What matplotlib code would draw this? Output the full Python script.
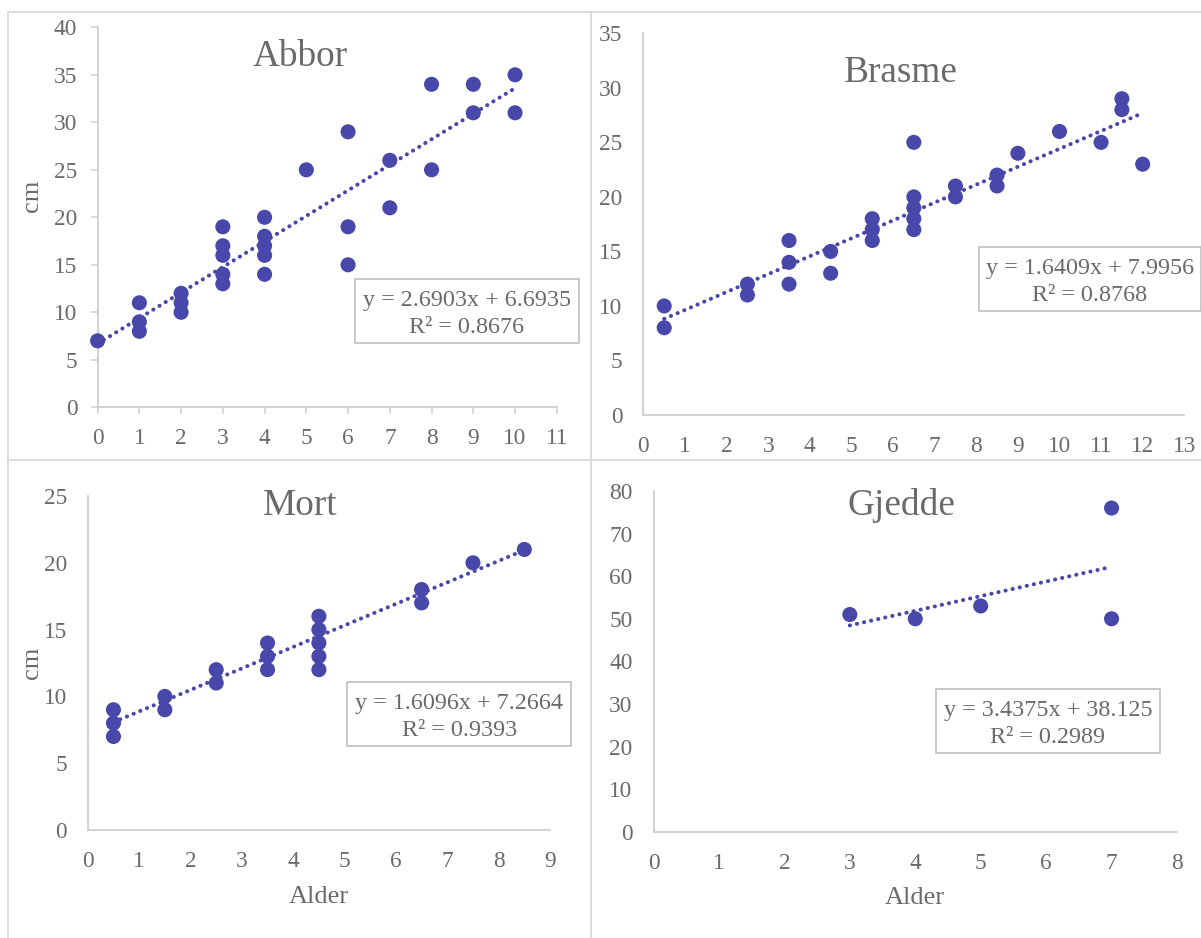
import matplotlib
matplotlib.use('Agg')
import matplotlib.pyplot as plt
from matplotlib.lines import Line2D
from matplotlib.patches import Rectangle
import numpy as np

plt.rcParams['font.family'] = ['Liberation Serif', 'DejaVu Serif']

# ---------------- data ----------------
abbor_alder = [0, 1, 1, 1, 2, 2, 2, 3, 3, 3, 3, 3, 4, 4, 4, 4, 4, 5, 6, 6, 6, 7, 7, 8, 8, 9, 9, 10, 10]
abbor_cm = [7, 11, 9, 8, 12, 11, 10, 19, 17, 16, 14, 13, 20, 18, 17, 16, 14, 25, 29, 19, 15, 26, 21, 34, 25, 34, 31, 35, 31]

brasme_alder = [0.5, 0.5, 2.5, 2.5, 3.5, 3.5, 3.5, 4.5, 4.5, 5.5, 5.5, 5.5, 6.5, 6.5, 6.5, 6.5, 6.5,
                7.5, 7.5, 8.5, 8.5, 9, 10, 11, 11.5, 11.5, 12]
brasme_cm = [10, 8, 12, 11, 16, 14, 12, 15, 13, 18, 17, 16, 25, 20, 19, 18, 17,
             21, 20, 22, 21, 24, 26, 25, 29, 28, 23]

mort_alder = [0.5, 0.5, 0.5, 1.5, 1.5, 2.5, 2.5, 3.5, 3.5, 3.5, 4.5, 4.5, 4.5, 4.5, 4.5, 6.5, 6.5, 7.5, 8.5]
mort_cm = [9, 8, 7, 10, 9, 12, 11, 14, 13, 12, 16, 15, 14, 13, 12, 18, 17, 20, 21]

gjedde_alder = [3, 4, 5, 7, 7]
gjedde_cm = [51, 50, 53, 76, 50]

titles = ['Abbor', 'Brasme', 'Mort', 'Gjedde']
slopes = [2.6903, 1.6409, 1.6096, 3.4375]
intercepts = [6.6935, 7.9956, 7.2664, 38.125]
r2_values = [0.8676, 0.8768, 0.9393, 0.2989]
xlims = [11, 13, 9, 8]
ylims = [40, 35, 25, 80]
ysteps = [5, 5, 5, 10]

# ---------------- style ----------------
W, H = 1201, 938
TXT = '#6a6a6a'
AXC = '#cfcfcf'
BORDER = '#d9d9d9'
MK = '#4848AA'

fig = plt.figure(figsize=(W / 100, H / 100), dpi=100)


def fx(x):
    return x / W


def fy(y):
    return 1 - y / H


# panel borders
for (x0, y0, x1, y1) in [(8, 12, 1210, 12), (8, 12, 8, 940), (591, 12, 591, 940), (8, 460, 1210, 460)]:
    fig.add_artist(Line2D([fx(x0), fx(x1)], [fy(y0), fy(y1)], color=BORDER, lw=1.3,
                          transform=fig.transFigure))

# layout in pixels: (x_left, x_right, y_top, y_bottom)
axes_px = [(97.6, 556.8, 27.3, 407.3),
           (643.4, 1184.3, 33.3, 415.0),
           (87.8, 550.0, 496.0, 830.0),
           (653.5, 1177.0, 491.0, 831.7)]
title_px = [(300, 66.5), (901, 82.5), (300, 515), (901, 515)]
box_px = [(355, 279, 579, 343), (979, 247, 1201, 311), (347.5, 682, 571, 746), (936, 689, 1160, 753)]
has_ticks = [True, False, False, False]

datasets = [(abbor_alder, abbor_cm), (brasme_alder, brasme_cm),
            (mort_alder, mort_cm), (gjedde_alder, gjedde_cm)]

for i in range(4):
    xl, xr, yt, yb = axes_px[i]
    ax = fig.add_axes([fx(xl), fy(yb), (xr - xl) / W, (yb - yt) / H])
    ax.set_xlim(0, xlims[i])
    ax.set_ylim(0, ylims[i])
    ax.set_xticks(np.arange(0, xlims[i] + 1, 1))
    ax.set_yticks(np.arange(0, ylims[i] + 1, ysteps[i]))
    ax.patch.set_alpha(0)
    for s in ['top', 'right']:
        ax.spines[s].set_visible(False)
    for s in ['left', 'bottom']:
        ax.spines[s].set_color(AXC)
        ax.spines[s].set_linewidth(1.3)
    if has_ticks[i]:
        ax.tick_params(axis='both', length=5, width=1.1, color=AXC, labelsize=16.8, labelcolor=TXT)
        ax.tick_params(axis='y', pad=9.6)
        ax.tick_params(axis='x', pad=9.8)
    else:
        ax.tick_params(axis='both', length=0, labelsize=16.8, labelcolor=TXT)
        ax.tick_params(axis='y', pad=15.0)
        ax.tick_params(axis='x', pad=15.0)

    xs, ys = datasets[i]
    ax.scatter(xs, ys, s=118, color=MK, edgecolors='none', zorder=3, clip_on=False)
    xmin, xmax = min(xs), max(xs)
    tx = np.array([xmin, xmax])
    ax.plot(tx, slopes[i] * tx + intercepts[i], color=MK, lw=2.9,
            dashes=(0.05, 1.75), dash_capstyle='round', zorder=4, clip_on=False)

    # title
    tx_, ty_ = title_px[i]
    fig.text(fx(tx_), fy(ty_), titles[i], ha='center', va='baseline', fontsize=26.8, color=TXT)

    # equation box
    bx0, by0, bx1, by1 = box_px[i]
    fig.add_artist(Rectangle((fx(bx0), fy(by1)), (bx1 - bx0) / W, (by1 - by0) / H,
                             transform=fig.transFigure, facecolor='white', edgecolor='#bfbfbf',
                             lw=1.2, zorder=5))
    bc = (bx0 + bx1) / 2
    sign = '+' if intercepts[i] >= 0 else '-'
    fig.text(fx(bc), fy(by0 + 27), f'y = {slopes[i]}x {sign} {abs(intercepts[i])}', ha='center',
             va='baseline', fontsize=17.4, color=TXT, zorder=6)
    fig.text(fx(bc), fy(by0 + 54), f'R² = {r2_values[i]}', ha='center',
             va='baseline', fontsize=17.4, color=TXT, zorder=6)

# axis titles
fig.text(fx(31.7), fy(196), 'cm', rotation=90, ha='center', va='center', fontsize=19, color=TXT)
fig.text(fx(31.6), fy(663), 'cm', rotation=90, ha='center', va='center', fontsize=19, color=TXT)
fig.text(fx(318.9), fy(903), 'Alder', ha='center', va='baseline', fontsize=19, color=TXT)
fig.text(fx(915.2), fy(904), 'Alder', ha='center', va='baseline', fontsize=19, color=TXT)

fig.savefig('out.png', dpi=100, facecolor='white')
